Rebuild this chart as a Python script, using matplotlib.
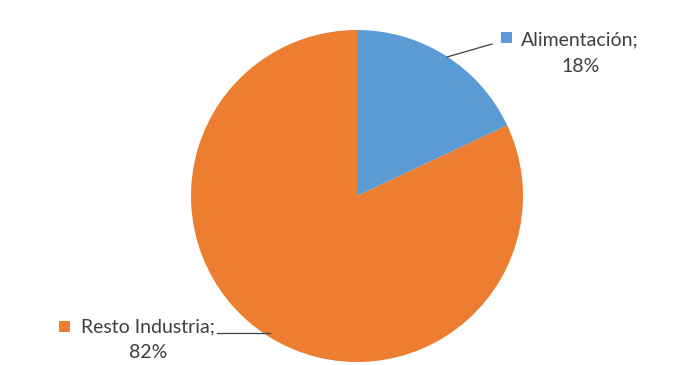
import matplotlib
matplotlib.use("Agg")
import matplotlib.pyplot as plt
from matplotlib.patches import Rectangle

categories = ["Alimentación", "Resto Industria"]
values = [18, 82]
colors = ["#5B9BD5", "#ED7D31"]

W, H = 687, 365
fig = plt.figure(figsize=(W / 100, H / 100), dpi=100)
ax = fig.add_axes([0, 0, 1, 1])

cx, cy, r = 357, H - 196, 166
ax.pie(values, colors=colors, startangle=90, counterclock=False,
       center=(cx, cy), radius=r, frame=True,
       wedgeprops=dict(linewidth=0))
ax.set_xlim(0, W)
ax.set_ylim(0, H)
ax.set_aspect("equal")
ax.axis("off")

txt = dict(fontsize=14, color="#3F3F3F", family=["Lato", "DejaVu Sans"])

# Label 1
ax.plot([447, 492], [H - 57, H - 44], color="#404040", lw=0.9)
ax.add_patch(Rectangle((501, H - 43), 11, 11, color=colors[0], lw=0))
ax.text(521, H - 40, f"{categories[0]};", ha="left", va="center", **txt)
ax.text(581, H - 66, f"{values[0]}%", ha="center", va="center", **txt)

# Label 2
ax.plot([217, 270], [H - 333, H - 333], color="#404040", lw=0.9)
ax.add_patch(Rectangle((59, H - 332), 11, 11, color=colors[1], lw=0))
ax.text(81, H - 327, f"{categories[1]};", ha="left", va="center", **txt)
ax.text(148, H - 352, f"{values[1]}%", ha="center", va="center", **txt)

fig.savefig("out.png", dpi=100, facecolor="white")
